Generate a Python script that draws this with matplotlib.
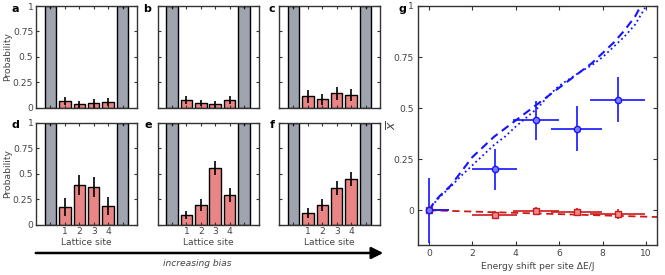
import numpy as np
import matplotlib
matplotlib.use("Agg")
import matplotlib.pyplot as plt

matplotlib.rcParams['font.family'] = 'DejaVu Sans'
matplotlib.rcParams['font.size'] = 6.6

# bar panels a-f: probability on lattice sites 1-4 (edge reservoirs are 1)
panel_letters = ['a', 'b', 'c', 'd', 'e', 'f']
site_probs = [
    [0.06, 0.03, 0.04, 0.05],
    [0.07, 0.04, 0.03, 0.07],
    [0.11, 0.08, 0.14, 0.12],
    [0.17, 0.39, 0.37, 0.18],
    [0.09, 0.19, 0.56, 0.29],
    [0.11, 0.19, 0.36, 0.45],
]
site_errs = [
    [0.04, 0.03, 0.04, 0.04],
    [0.04, 0.03, 0.03, 0.04],
    [0.065, 0.055, 0.065, 0.06],
    [0.09, 0.10, 0.10, 0.09],
    [0.04, 0.06, 0.07, 0.065],
    [0.05, 0.06, 0.07, 0.07],
]
edge_prob = 1.0
site_labels = ['', '1', '2', '3', '4', '']
prob_ticks = [0, 0.25, 0.5, 0.75, 1]
prob_labels = ['0', '0.25', '0.5', '0.75', '1']

# panel g data
shift = [0, 3.05, 4.93, 6.8, 8.7]
shift_err_lo = [0, 1.05, 1.07, 1.18, 1.28]
shift_err_hi = [0.92, 0.99, 1.07, 1.18, 1.27]
x_blue = [0, 0.20, 0.44, 0.40, 0.54]
x_blue_err = [0.16, 0.10, 0.095, 0.11, 0.11]
x_red = [0, -0.022, -0.003, -0.01, -0.017]
x_red_err = [0.01, 0.02, 0.02, 0.02, 0.025]

theory_e = [0, 0.25, 0.5, 1, 1.5, 2, 2.5, 3, 3.5, 4, 4.5, 5, 5.5, 6, 6.5, 7, 7.5, 8, 8.5, 9, 9.5, 9.75, 10, 10.5]
theory_dash = [0, 0.04, 0.07, 0.12, 0.19, 0.26, 0.31, 0.36, 0.40, 0.44, 0.48, 0.52, 0.56, 0.60, 0.64, 0.68, 0.72, 0.77, 0.82, 0.88, 0.95, 1.0, 1.04, 1.1]
theory_dot = [0, 0.035, 0.065, 0.115, 0.17, 0.22, 0.27, 0.32, 0.36, 0.41, 0.455, 0.50, 0.56, 0.61, 0.645, 0.68, 0.71, 0.75, 0.80, 0.85, 0.91, 0.955, 1.0, 1.08]
theory_red_e = [0, 10.5]
theory_red = [0, -0.033]

GRAY = '#a0a4ae'
PINK = '#ea8585'
TXT = '#444444'
SPINE = '#333333'

fig = plt.figure(figsize=(6.65, 2.75), dpi=100)

lefts = [36, 157.5, 279]
tops = [6, 123]
for i, letter in enumerate(panel_letters):
    row, col = divmod(i, 3)
    L = lefts[col] / 665
    B = 1 - (tops[row] + 101.5) / 275
    ax = fig.add_axes([L, B, 101 / 665, 101.5 / 275])
    ax.bar([0, 5], [edge_prob, edge_prob], width=0.8, color=GRAY, edgecolor='black', linewidth=1.0)
    ax.bar([1, 2, 3, 4], site_probs[i], width=0.8, color=PINK, edgecolor='black', linewidth=1.0)
    ax.errorbar([1, 2, 3, 4], site_probs[i], yerr=site_errs[i], fmt='none', ecolor='black', elinewidth=1.2, capsize=0)
    ax.errorbar([0, 5], [edge_prob, edge_prob], yerr=[0.02, 0.02], fmt='none', ecolor='black', elinewidth=1.0, capsize=0)
    ax.set_xlim(-1, 6)
    ax.set_ylim(0, 1)
    if row == 1:
        ax.set_xticks(range(6), labels=site_labels)
        ax.set_xlabel('Lattice site', color=TXT, labelpad=1)
    else:
        ax.set_xticks(range(6), labels=[''] * 6)
    if col == 0:
        ax.set_yticks(prob_ticks, labels=prob_labels)
        ax.set_ylabel('Probability', color=TXT)
        ax.yaxis.set_label_coords(-24 / 101, 0.5)
    else:
        ax.set_yticks(prob_ticks, labels=[''] * 5)
    ax.tick_params(direction='in', top=True, right=True, length=2.5, width=0.8, colors=SPINE, labelcolor=TXT, labelsize=6.6, pad=2)
    for s in ax.spines.values():
        s.set_color(SPINE)
        s.set_linewidth(1.0)

letter_pos = [(15, 9), (147, 9), (272, 9), (15, 125), (148, 125), (272, 125)]
for letter, (px, py) in zip(panel_letters, letter_pos):
    fig.text(px / 665, 1 - py / 275, letter, fontweight='bold', fontsize=8, ha='center', va='center')

# arrow
fig.add_artist(matplotlib.patches.FancyArrowPatch((33 / 665, 1 - 253 / 275), (386 / 665, 1 - 253 / 275),
               transform=fig.transFigure, arrowstyle='-|>,head_length=7,head_width=3.5',
               color='black', linewidth=1.8, mutation_scale=1))
fig.text(197 / 665, 1 - 264 / 275, 'increasing bias', fontstyle='italic', color=TXT, ha='center', va='center', fontsize=6.6)

# panel g
axg = fig.add_axes([418 / 665, 1 - 245 / 275, 239 / 665, 239 / 275])
BLUE = '#1414ff'
RED = '#cc1a1a'
axg.plot(theory_e, theory_dash, '--', color=BLUE, linewidth=1.5, dashes=(4, 2.5))
axg.plot(theory_e, theory_dot, ':', color=BLUE, linewidth=1.3)
axg.plot(theory_red_e, theory_red, '--', color=RED, linewidth=1.3, dashes=(4, 2.5))
axg.errorbar(shift, x_red, xerr=[shift_err_lo, shift_err_hi], yerr=x_red_err, fmt='s', color=RED,
             markerfacecolor='#f08a8a', markeredgecolor=RED, markersize=4, elinewidth=1.2, capsize=0)
axg.errorbar(shift, x_blue, xerr=[shift_err_lo, shift_err_hi], yerr=x_blue_err, fmt='o', color=BLUE,
             markerfacecolor='#7d7dff', markeredgecolor=BLUE, markersize=4.5, elinewidth=1.2, capsize=0)
axg.set_xlim(-0.5, 10.5)
axg.set_ylim(-0.17, 1)
axg.set_xticks([0, 2, 4, 6, 8, 10])
axg.set_yticks(prob_ticks, labels=prob_labels)
axg.tick_params(direction='in', top=True, right=True, length=3, width=0.8, colors=SPINE, labelcolor=TXT, labelsize=6.6, pad=3)
axg.set_xlabel('Energy shift per site ΔE/J', color=TXT, labelpad=3)
axg.set_ylabel(r'$\overline{x}$', color=TXT, fontsize=9)
axg.yaxis.set_label_coords(-19 / 239, (245 - 125) / 239)
for s in axg.spines.values():
    s.set_color(SPINE)
    s.set_linewidth(1.0)
fig.text(402 / 665, 1 - 9 / 275, 'g', fontweight='bold', fontsize=8, ha='center', va='center')

fig.savefig('out.png', dpi=100)
